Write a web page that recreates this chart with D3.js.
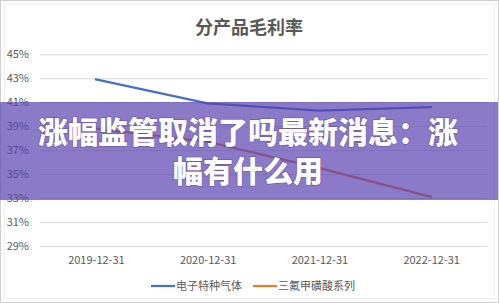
<!DOCTYPE html>
<html>
<head>
<meta charset="utf-8">
<script src="https://cdn.jsdelivr.net/npm/d3@7"></script>
<style>
  html, body { margin: 0; padding: 0; background: #fff; }
  #chart { width: 499px; height: 303px; position: relative; overflow: hidden; }
  svg text { font-family: "Noto Sans CJK SC", "Noto Sans", sans-serif; }
</style>
</head>
<body>
<div id="chart"></div>
<script>
// chart data
const categories = [`2019-12-31`, `2020-12-31`, `2021-12-31`, `2022-12-31`];
const seriesNames = [`电子特种气体`, `三氟甲磺酸系列`];
const gasValues = [42.9, 40.9, 40.3, 40.6];
const acidValues = [38.8, 37.7, 35.5, 33.1];
const yTicks = [29, 31, 33, 35, 37, 39, 41, 43, 45];
const titleText = `分产品毛利率`;
const bannerLines = [`涨幅监管取消了吗最新消息：涨`, `幅有什么用`];

const width = 499;
const height = 303;
const colors = [`#4472c4`, `#ed7d31`];
const textColor = `#595959`;

const svg = d3.select(`#chart`).append(`svg`)
    .attr(`width`, width)
    .attr(`height`, height);

// frame
svg.append(`rect`)
    .attr(`x`, 0.5).attr(`y`, 0.5)
    .attr(`width`, width - 1).attr(`height`, height - 1)
    .attr(`fill`, `#fff`)
    .attr(`stroke`, `#cfcfcf`);
svg.append(`rect`)
    .attr(`x`, 4.5).attr(`y`, 4.5)
    .attr(`width`, width - 9).attr(`height`, height - 9)
    .attr(`fill`, `none`)
    .attr(`stroke`, `#efefef`);

const x = d3.scalePoint()
    .domain(categories)
    .range([40, 487])
    .padding(0.5);

const y = d3.scaleLinear()
    .domain([29, 45])
    .range([246, 54.3]);

svg.append(`text`)
    .attr(`x`, 249)
    .attr(`y`, 34)
    .attr(`text-anchor`, `middle`)
    .attr(`font-size`, 18)
    .attr(`font-weight`, `bold`)
    .attr(`fill`, textColor)
    .text(titleText);

// gridlines + y labels
const yAxis = d3.axisLeft(y)
    .tickValues(yTicks)
    .tickSize(-(487 - 40))
    .tickPadding(10)
    .tickFormat((d) => `${d}%`);

const gy = svg.append(`g`)
    .attr(`transform`, `translate(40,0)`)
    .call(yAxis);
gy.select(`.domain`).remove();
gy.selectAll(`.tick line`).attr(`stroke`, `#d9d9d9`).attr(`stroke-width`, 1);
gy.selectAll(`.tick text`)
    .attr(`fill`, textColor)
    .attr(`font-size`, 11)
    .attr(`x`, -11);

const xAxis = d3.axisBottom(x).tickSize(0).tickPadding(0);
const gx = svg.append(`g`)
    .attr(`transform`, `translate(0,256)`)
    .call(xAxis);
gx.select(`.domain`).remove();
gx.selectAll(`.tick text`)
    .attr(`fill`, textColor)
    .attr(`font-size`, 11);

// lines
const line = d3.line()
    .x((d, i) => x(categories[i]))
    .y((d) => y(d));

[gasValues, acidValues].forEach((vals, i) => {
  svg.append(`path`)
      .datum(vals)
      .attr(`d`, line)
      .attr(`fill`, `none`)
      .attr(`stroke`, colors[i])
      .attr(`stroke-width`, 2.25)
      .attr(`stroke-linejoin`, `round`)
      .attr(`stroke-linecap`, `round`);
});

// legend
const legendItems = [
  { name: seriesNames[0], color: colors[0], x: 151 },
  { name: seriesNames[1], color: colors[1], x: 253 }
];
const legend = svg.append(`g`).attr(`transform`, `translate(0,286)`);
legendItems.forEach((d) => {
  legend.append(`line`)
      .attr(`x1`, d.x).attr(`x2`, d.x + 24)
      .attr(`y1`, 0).attr(`y2`, 0)
      .attr(`stroke`, d.color)
      .attr(`stroke-width`, 2.25);
  legend.append(`text`)
      .attr(`x`, d.x + 25)
      .attr(`y`, 0)
      .attr(`dy`, `0.35em`)
      .attr(`font-size`, 11)
      .attr(`fill`, textColor)
      .text(d.name);
});

// overlay banner
svg.append(`rect`)
    .attr(`x`, 0).attr(`y`, 102)
    .attr(`width`, width - 1).attr(`height`, 98)
    .attr(`fill`, `rgb(88,65,176)`)
    .attr(`fill-opacity`, 0.7);

const banner = svg.append(`text`)
    .attr(`text-anchor`, `middle`)
    .attr(`font-size`, 30)
    .attr(`font-weight`, 900)
    .attr(`fill`, `#fff`)
    .style(`paint-order`, `stroke`)
    .attr(`stroke`, `rgba(60,40,120,0.35)`)
    .attr(`stroke-width`, 1.5);
bannerLines.forEach((t, i) => {
  banner.append(`tspan`)
      .attr(`x`, 248)
      .attr(`y`, 143 + i * 39)
      .text(t);
});
</script>
</body>
</html>
